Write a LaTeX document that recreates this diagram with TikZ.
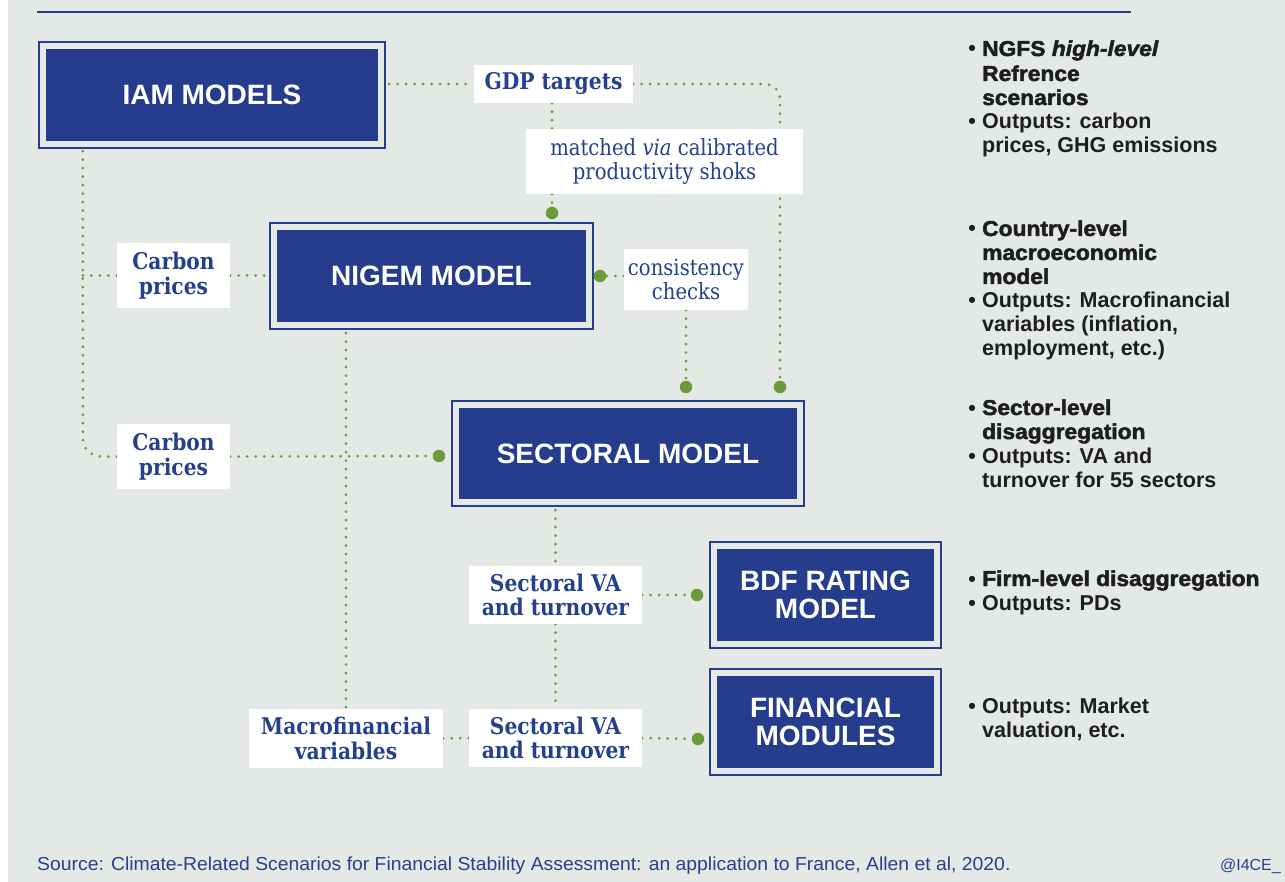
\documentclass[tikz,border=0pt]{standalone}
\usepackage{fontspec}
\usetikzlibrary{calc}
\setmainfont{Liberation Sans}
\newfontfamily\slabfont{DejaVu Serif}[FakeStretch=0.88]
\newfontfamily\heavyfont{Liberation Sans Bold}[FakeBold=2.2, FakeStretch=1.06]
\newfontfamily\heavyitfont{Liberation Sans Bold Italic}[FakeBold=2.2, FakeStretch=1.06]
\newfontfamily\footfont{Liberation Sans}[FakeStretch=1.03]

\definecolor{pagebg}{HTML}{E4E9E6}
\definecolor{navy}{HTML}{253D8C}
\definecolor{labelblue}{HTML}{24408E}
\definecolor{linkgreen}{HTML}{6A9A3A}
\definecolor{ink}{HTML}{1E1E1E}

\pgfdeclarelayer{paper}
\pgfdeclarelayer{links}
\pgfsetlayers{paper,links,main}

\tikzset{
  modelbox/.style={fill=navy, draw=navy, double=pagebg, double distance=6pt,
    line width=2.4pt, text=white, font=\bfseries\fontsize{28}{28}\selectfont,
    align=center, inner sep=0pt},
  tagbox/.style={fill=white, text=labelblue,
    font=\slabfont\bfseries\fontsize{23}{24.5}\selectfont, align=center, inner sep=0pt},
  notebox/.style={fill=white, text=labelblue,
    font=\slabfont\fontsize{22.3}{23.5}\selectfont, align=center, inner sep=0pt},
  link/.style={draw=linkgreen, line width=3pt, line cap=round, dash pattern=on 0pt off 8.5pt},
  joint/.style={circle, fill=linkgreen, inner sep=0pt, minimum size=12.5pt},
  headline/.style={anchor=base west, inner sep=0pt, text=ink,
    font=\heavyfont\fontsize{21.5}{24}\selectfont},
  outline/.style={anchor=base west, inner sep=0pt, text=ink,
    font=\bfseries\fontsize{21.5}{24}\selectfont},
  bulletmark/.style={anchor=base east, inner sep=0pt, text=ink,
    font=\bfseries\fontsize{21.5}{24}\selectfont},
}

\begin{document}
\begin{tikzpicture}[x=1pt, y=-1pt]
  % page
  \useasboundingbox (0,0) rectangle (1285,882);
  \begin{pgfonlayer}{paper}
    \fill[white] (0,0) rectangle (1285,882);
    \fill[pagebg] (8,0) rectangle (1285,882);
    \draw[navy, line width=1.2pt] (37,12) -- (1131,12);
  \end{pgfonlayer}

  % models
  \node[modelbox, minimum width=338pt, minimum height=98pt] (iam)   at (212,95)    {IAM MODELS};
  \node[modelbox, minimum width=315pt, minimum height=98pt] (nigem) at (431.5,276) {NIGEM MODEL};
  \node[modelbox, minimum width=344pt, minimum height=97pt] (sect)  at (628,453.5) {SECTORAL MODEL};
  \node[modelbox, minimum width=223pt, minimum height=98pt] (bdf)   at (825.5,595) {BDF RATING\\MODEL};
  \node[modelbox, minimum width=223pt, minimum height=98pt] (fin)   at (825.5,722) {FINANCIAL\\MODULES};

  % labels on the links
  \node[tagbox, minimum width=159pt, minimum height=38pt] (gdp)   at (553.5,84)    {GDP targets};
  \node[notebox, minimum width=277pt, minimum height=65pt] (match) at (664.5,161.5) {matched \textit{via} calibrated\\productivity shoks};
  \node[notebox, minimum width=124pt, minimum height=61pt] (cons)  at (686,279.5)   {consistency\\checks};
  \node[tagbox, minimum width=113pt, minimum height=65pt] (carb1) at (173.5,275.5) {Carbon\\prices};
  \node[tagbox, minimum width=113pt, minimum height=65pt] (carb2) at (173.5,456.5) {Carbon\\prices};
  \node[tagbox, minimum width=173pt, minimum height=58pt] (va1)   at (555.5,595)   {Sectoral VA\\and turnover};
  \node[tagbox, minimum width=173pt, minimum height=58pt] (va2)   at (555.5,738)   {Sectoral VA\\and turnover};
  \node[tagbox, minimum width=194pt, minimum height=59pt] (macro) at (346,738.5)   {Macrofinancial\\variables};

  % link end points
  \node[joint] (jgdp)   at (780,387) {};
  \node[joint] (jcons)  at (686,387) {};
  \node[joint] (jmatch) at (552,213) {};
  \node[joint] (jnig)   at (600,276) {};
  \node[joint] (jcarb)  at (439,456) {};
  \node[joint] (jbdf)   at (697,595) {};
  \node[joint] (jfin)   at (698,739) {};
  \coordinate (trunk) at ($(iam.south west)+(41,6)$);

  % links, kept underneath the boxes
  \begin{pgfonlayer}{links}
    \draw[link, shorten <=7pt] (iam.east |- gdp.west) -- (gdp.west);
    \draw[link, rounded corners=15pt] (gdp.east) -| (jgdp);
    \draw[link] (jmatch |- gdp.south) -- (jmatch |- match.north);
    \draw[link] (jmatch |- match.south) -- (jmatch);
    \draw[link] (cons.west |- jnig) -- (jnig);
    \draw[link] (jcons |- cons.south) -- (jcons);
    \draw[link, rounded corners=18pt] (trunk) |- (carb2.west);
    \draw[link] (trunk |- carb1.west) -- (carb1.west);
    \draw[link, shorten >=7pt] (carb1.east) -- (nigem.west |- carb1.east);
    \draw[link] (carb2.east) -- (jcarb);
    \draw[link, shorten <=7pt] (macro.north |- nigem.south) -- (macro.north);
    \draw[link, shorten <=7pt] (va1.north |- sect.south) -- (va1.north);
    \draw[link] (va1.east) -- (jbdf);
    \draw[link] (va1.south) -- (va2.north);
    \draw[link] (va2.east) -- (jfin);
    \draw[link] (macro.east) -- (va2.west);
  \end{pgfonlayer}

  % descriptions on the right
  \node[bulletmark] (b1) at (976,56) {•};
  \node[headline] (t1a) at (982,56)  {NGFS {\heavyitfont high-level}};
  \node[headline] (t1b) at (982,81)  {Refrence};
  \node[headline] (t1c) at (982,105) {scenarios};
  \node[bulletmark] (b2) at (976,129) {•};
  \node[outline]  (t1d) at (982,129) {Outputs: carbon};
  \node[outline]  (t1e) at (982,153) {prices, GHG emissions};

  \node[bulletmark] (b3) at (976,236) {•};
  \node[headline] (t2a) at (982,236) {Country-level};
  \node[headline] (t2b) at (982,260) {macroeconomic};
  \node[headline] (t2c) at (982,284) {model};
  \node[bulletmark] (b4) at (976,308) {•};
  \node[outline]  (t2d) at (982,308) {Outputs: Macrofinancial};
  \node[outline]  (t2e) at (982,332) {variables (inflation,};
  \node[outline]  (t2f) at (982,356) {employment, etc.)};

  \node[bulletmark] (b5) at (976,415) {•};
  \node[headline] (t3a) at (982,415) {Sector-level};
  \node[headline] (t3b) at (982,439) {disaggregation};
  \node[bulletmark] (b6) at (976,463) {•};
  \node[outline]  (t3c) at (982,463) {Outputs: VA and};
  \node[outline]  (t3d) at (982,487) {turnover for 55 sectors};

  \node[bulletmark] (b7) at (976,586) {•};
  \node[headline] (t4a) at (982,586) {Firm-level disaggregation};
  \node[bulletmark] (b8) at (976,610) {•};
  \node[outline]  (t4b) at (982,610) {Outputs: PDs};

  \node[bulletmark] (b9) at (976,713) {•};
  \node[outline]  (t5a) at (982,713) {Outputs: Market};
  \node[outline]  (t5b) at (982,737) {valuation, etc.};

  % footer
  \node[anchor=base west, inner sep=0pt, text=labelblue, font=\footfont\fontsize{18.8}{20}\selectfont] (src) at (37,870)
    {Source: Climate-Related Scenarios for Financial Stability Assessment: an application to France, Allen et al, 2020.};
  \node[anchor=base east, inner sep=0pt, text=labelblue, font=\fontsize{16}{18}\selectfont] (tag) at (1281,870) {@I4CE\_};
\end{tikzpicture}
\end{document}
